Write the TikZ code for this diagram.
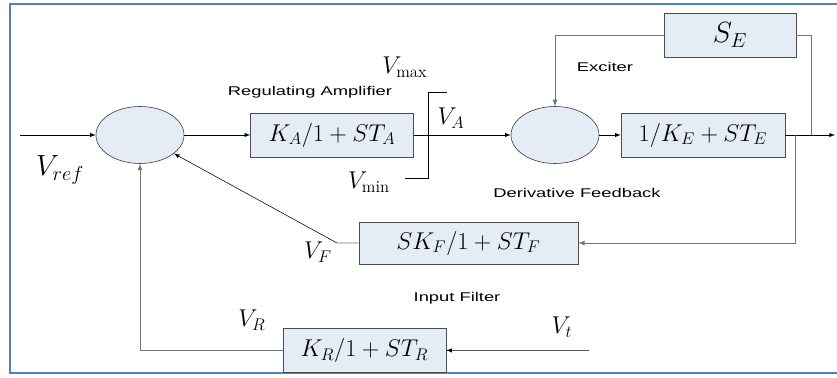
\documentclass[tikz,border=0pt]{standalone}
\usepackage{fontspec}
\usetikzlibrary{shapes.geometric}
\newfontfamily\lblfont{Liberation Sans}
\definecolor{blkfill}{RGB}{228,236,246}
\definecolor{framebl}{RGB}{79,129,189}
\begin{document}
\begin{tikzpicture}[>=latex,
    blk/.style={draw=black!70, fill=blkfill, minimum height=1.1cm, inner sep=0pt, font=\fontsize{16.5}{18}\selectfont},
    sumnode/.style={draw=black!80, fill=blkfill, ellipse, minimum width=2.2cm, minimum height=1.425cm, inner sep=0pt},
    fb/.style={draw=black!55, line width=0.6pt},
    lbl/.style={font=\lblfont\fontsize{9}{11}\selectfont},
    vlab/.style={font=\fontsize{17}{19}\selectfont}]
    \useasboundingbox (0,0) rectangle (20.925,-9.45);
    % frame
    \draw[framebl, line width=2pt] (21.2,-0.1) -- (0.25,-0.1) -- (0.25,-9.325) -- (21.2,-9.325);

    % main row
    \node (sum1) [sumnode] at (3.5,-3.375) {};
    \node (ka) [blk, minimum width=4.075cm, right of=sum1, node distance=4.8cm] {$K_A/1+ST_A$};
    \node (sum2) [sumnode, right of=ka, node distance=5.575cm] {};
    \node (ke) [blk, minimum width=4.1cm, right of=sum2, node distance=3.7cm] {$1/K_E+ST_E$};
    \node (se) [blk, minimum width=3.3cm, above of=ke, node distance=2.5cm, xshift=0.675cm, font=\fontsize{21}{23}\selectfont] {$S_E$};
    \node (skf) [blk, minimum width=5.475cm, minimum height=1.05cm, below of=ka, node distance=2.7cm, xshift=3.41cm] {$SK_F/1+ST_F$};
    \node (kr) [blk, minimum width=4.075cm, below of=ka, node distance=5.385cm, xshift=0.81cm] {$K_R/1+ST_R$};

    \coordinate (vin) at (0.5,-3.375);
    \coordinate (out) at (20.875,-3.375);
    \coordinate (j1) at (20.275,-3.375);
    \coordinate (j2) at (19.875,-3.375);
    \coordinate (vf) at (8.425,-6.075);
    \coordinate (vt) at (14.725,-8.76);

    \draw[->] (vin) -- (sum1);
    \draw[->] (sum1) -- (ka);
    \draw[->] (ka) -- (sum2);
    \draw[->] (sum2) -- (ke);
    \draw[->] (ke) -- (out);
    \draw[fb] (j1) |- (se);
    \draw[fb, ->] (se) -| (sum2);
    \draw[fb, ->] (j2) |- (skf);
    \draw[fb] (skf) -- (vf);
    \draw[->] (vf) -- (sum1);
    \draw[->] (vt) -- (kr);
    \draw[fb, ->] (kr) -| (sum1);

    % limiter
    \draw (10.125,-4.45) -- (10.7,-4.45) -- (10.7,-2.3) -- (11.175,-2.3);

    \node (vref) [font=\fontsize{22}{24}\selectfont] at (1.5,-4.25) {$V_{ref}$};
    \node (vmax) [vlab] at (10.125,-1.675) {$V_{\max}$};
    \node (vmin) [vlab] at (9.225,-4.55) {$V_{\min}$};
    \node (va) [vlab] at (11.275,-2.95) {$V_A$};
    \node (vfl) [vlab] at (7.95,-6.3) {$V_F$};
    \node (vr) [vlab] at (6.3,-8.0) {$V_R$};
    \node (vtl) [vlab] at (14.05,-8.175) {$V_t$};

    \node (reg) [lbl] at (7.75,-2.3) {\scalebox{1.45}[1]{Regulating Amplifier}};
    \node (exc) [lbl] at (15.125,-1.675) {\scalebox{1.45}[1]{Exciter}};
    \node (der) [lbl] at (14.425,-4.825) {\scalebox{1.45}[1]{Derivative Feedback}};
    \node (inf) [lbl] at (11.425,-7.45) {\scalebox{1.45}[1]{Input Filter}};
  \end{tikzpicture}
\end{document}
